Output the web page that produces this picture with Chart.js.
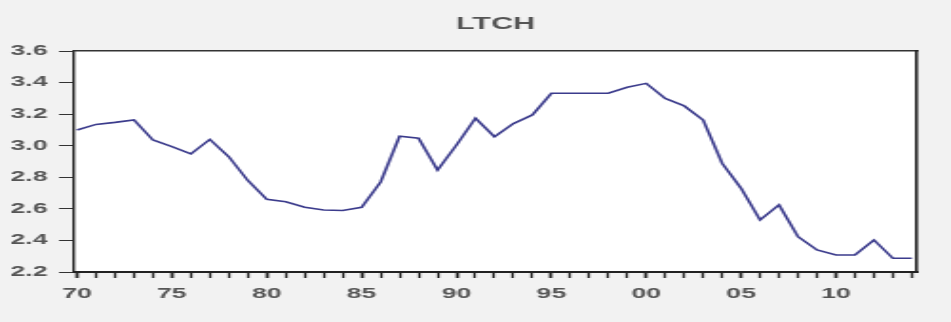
<!DOCTYPE html>
<html>
<head>
<meta charset="utf-8">
<script src="https://cdn.jsdelivr.net/npm/chart.js@4/dist/chart.umd.min.js"></script>
<style>
  html, body { margin: 0; padding: 0; background: #f2f2f2; overflow: hidden; }
  #wrap { width: 951px; height: 322px; overflow: hidden; }
  /* the source picture is a horizontally stretched EViews graph */
  #chart { display: block; transform: scaleX(1.902); transform-origin: 0 0; }
</style>
</head>
<body>
<div id="wrap"><canvas id="chart" width="500" height="322"></canvas></div>
<script>
const years = [
  1970, 1971, 1972, 1973, 1974, 1975, 1976, 1977, 1978, 1979,
  1980, 1981, 1982, 1983, 1984, 1985, 1986, 1987, 1988, 1989,
  1990, 1991, 1992, 1993, 1994, 1995, 1996, 1997, 1998, 1999,
  2000, 2001, 2002, 2003, 2004, 2005, 2006, 2007, 2008, 2009,
  2010, 2011, 2012, 2013, 2014,
]
const ltch = [
  3.100, 3.135, 3.148, 3.163, 3.036, 2.994, 2.948, 3.040, 2.930, 2.780,
  2.660, 2.645, 2.610, 2.593, 2.590, 2.610, 2.770, 3.060, 3.047, 2.846,
  3.005, 3.174, 3.057, 3.140, 3.195, 3.332, 3.332, 3.332, 3.332, 3.370,
  3.395, 3.300, 3.252, 3.163, 2.889, 2.730, 2.530, 2.625, 2.424, 2.340,
  2.308, 2.308, 2.403, 2.287, 2.287,
]
const yTicks = [2.2, 2.4, 2.6, 2.8, 3.0, 3.2, 3.4, 3.6]
const title = 'LTCH'

const textColor = '#555'
const family = '"Liberation Sans", Arial, sans-serif'
const tickFont = { family, size: 14, weight: 'bold' }

const plotBackground = {
  id: 'plotBackground',
  beforeDraw: (chart) => {
    const { ctx, chartArea: a } = chart
    ctx.save()
    ctx.fillStyle = '#ffffff'
    ctx.fillRect(a.left, a.top, a.right - a.left, a.bottom - a.top)
    ctx.restore()
  },
}

const chart = new Chart(document.getElementById('chart').getContext('2d'), {
  type: 'line',
  data: {
    datasets: [{
      label: title,
      data: years.map((year, i) => ({ x: year, y: ltch[i] })),
      borderColor: '#3b3b8c',
      borderWidth: 1.6,
      pointRadius: 0,
      tension: 0,
      xAxisID: 'x',
      yAxisID: 'y',
    }],
  },
  options: {
    responsive: false,
    devicePixelRatio: 1,
    animation: false,
    layout: { padding: { left: 0, right: 18, top: 0, bottom: 0 } },
    scales: {
      x: {
        type: 'linear',
        position: 'bottom',
        min: 1969.85,
        max: 2014.26,
        afterBuildTicks: (scale) => {
          scale.ticks = years.map((value) => ({ value }))
        },
        ticks: {
          autoSkip: false,
          maxRotation: 0,
          padding: 8,
          color: textColor,
          font: tickFont,
          callback: (value) => (value % 5 === 0 ? String(value).slice(2) : ''),
        },
        grid: {
          drawOnChartArea: false,
          drawTicks: true,
          tickLength: 6,
          tickColor: '#222',
          tickWidth: (ctx) => (ctx.tick && ctx.tick.value % 5 === 0 ? 1.7 : 1.3),
        },
        border: { display: true, color: '#222', width: 2 },
        afterFit: (scale) => { scale.height = 50 },
      },
      y: {
        type: 'linear',
        position: 'left',
        min: 2.2,
        max: 3.6,
        afterBuildTicks: (scale) => {
          scale.ticks = yTicks.map((value) => ({ value }))
        },
        ticks: {
          padding: 6,
          color: textColor,
          font: tickFont,
          callback: (value) => Number(value).toFixed(1),
        },
        grid: {
          drawOnChartArea: false,
          drawTicks: true,
          tickLength: 8,
          tickColor: '#333',
          tickWidth: 1,
        },
        border: { display: true, color: '#222', width: 1.4 },
        afterFit: (scale) => { scale.width = 39 },
      },
      // top axis carries the frame line and the title, centred over the plot
      xTop: {
        type: 'linear',
        position: 'top',
        min: 0,
        max: 1,
        grid: { display: false },
        ticks: { display: false },
        border: { display: true, color: '#333', width: 1.5 },
        title: {
          display: true,
          text: title,
          color: textColor,
          font: { family, size: 16, weight: 'bold' },
          padding: { top: 15, bottom: 0 },
        },
        afterFit: (scale) => { scale.height = 51 },
      },
      yRight: {
        type: 'linear',
        position: 'right',
        min: 0,
        max: 1,
        grid: { display: false },
        ticks: { display: false },
        border: { display: true, color: '#222', width: 1.6 },
        afterFit: (scale) => { scale.width = 0 },
      },
    },
    plugins: {
      legend: { display: false },
      tooltip: { enabled: false },
      title: { display: false },
    },
  },
  plugins: [plotBackground],
})
</script>
</body>
</html>
